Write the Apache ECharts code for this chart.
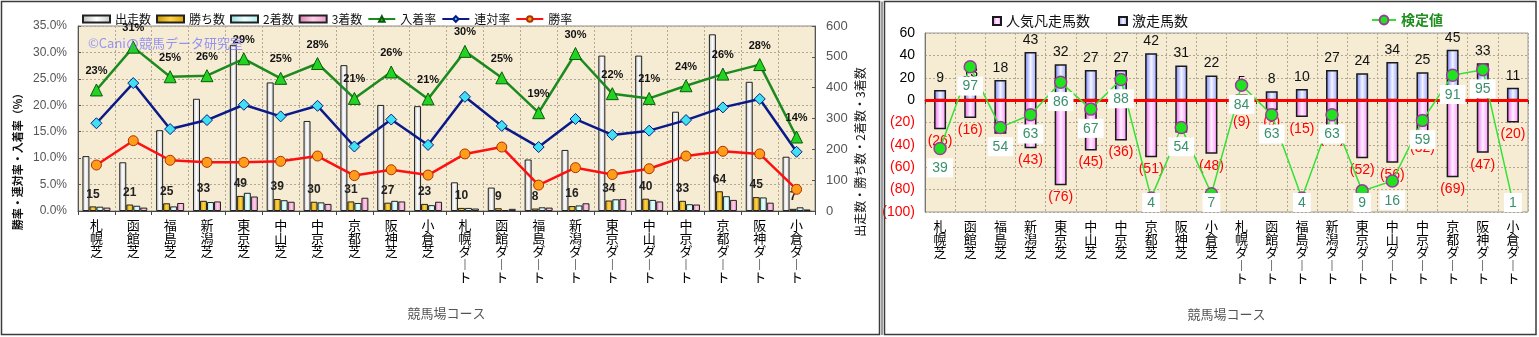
<!DOCTYPE html>
<html>
<head>
<meta charset="utf-8">
<script src="https://cdn.jsdelivr.net/npm/echarts@6/dist/echarts.min.js"></script>
<style>
  html, body { margin: 0; padding: 0; background: #ffffff; }
  #c { width: 1539px; height: 337px; }
</style>
</head>
<body>
<div id="c"></div>
<script>
// Racecourse / surface categories
const courses = ['札幌芝','函館芝','福島芝','新潟芝','東京芝','中山芝','中京芝','京都芝','阪神芝','小倉芝',
                 '札幌ダート','函館ダート','福島ダート','新潟ダート','東京ダート','中山ダート','中京ダート','京都ダート','阪神ダート','小倉ダート'];

// Counts per course (right axis of the left panel)
const starters = [178,158,262,364,539,417,292,473,344,340,93,76,167,198,504,504,322,573,419,176];
const wins     = [15,21,25,33,49,39,30,31,27,23,10,9,8,16,34,40,33,64,45,7];
const seconds  = [14,17,15,29,59,35,28,26,33,19,10,3,12,18,38,36,22,48,44,12];
const thirds   = [11,11,26,31,47,30,23,43,31,30,8,7,11,25,39,31,21,36,27,5];

// Rates in % (left axis of the left panel)
const placeRate    = [22.9,31.0,25.4,25.6,28.8,25.1,27.9,21.3,26.3,21.2,30.2,25.2,18.6,29.8,22.2,21.3,23.7,25.9,27.7,14.0];
const quinellaRate = [16.6,24.2,15.5,17.2,20.1,17.9,19.9,12.2,17.3,12.5,21.6,16.1,12.1,17.4,14.4,15.2,17.2,19.6,21.2,11.2];
const winRate      = [8.7,13.3,9.6,9.2,9.2,9.4,10.4,6.7,7.8,6.8,10.8,12.1,4.9,8.2,6.9,8.0,10.4,11.3,10.8,4.1];

// Right panel: beaten favourites (negative), longshot runs (positive), test statistic
const favLoss   = [-26,-16,-30,-43,-76,-45,-36,-51,-29,-48,-9,-9,-15,-24,-52,-56,-32,-69,-47,-20];
const longshots = [9,13,18,43,32,27,27,42,31,22,5,8,10,27,24,34,25,45,33,11];
const testValue = [39,97,54,63,86,67,88,4,54,7,84,63,4,63,9,16,59,91,95,1];

// Axis tick settings
const rateTicks  = { min: 0, max: 35, interval: 5 };
const countTicks = { min: 0, max: 600, interval: 100 };
const diffTicks  = { min: -100, max: 60, interval: 20 };
const testRange  = { min: -6, max: 121 };

const JP = '"Noto Sans CJK JP", "Noto Sans", sans-serif';
const NUM = '"Liberation Sans", Arial, sans-serif';
const PLOT_BG = '#f6ecd3';
const GRID_LINE = { show: true, lineStyle: { type: [2, 2], color: '#b3a892', width: 1 } };

// vertical stacked category text; long-vowel mark turned upright
const vertical = s => s.split('').map(c => (c === 'ー' ? '︱' : c)).join('\n');

const hGrad = stops => new echarts.graphic.LinearGradient(0, 0, 1, 0,
  stops.map((c, i) => ({ offset: i / (stops.length - 1), color: c })));

const barBorder = { borderColor: '#222', borderWidth: 1 };

const grid1 = { left: 78, top: 26, width: 737, height: 185 };
const grid2 = { left: 925, top: 33, width: 603, height: 179 };

const catAxis = (gridIndex) => ({
  type: 'category', gridIndex, data: courses,
  axisLine: { lineStyle: { color: '#444', width: 1 } },
  axisTick: { show: true, length: 4, lineStyle: { color: '#444' } },
  axisLabel: { interval: 0, formatter: vertical, fontFamily: JP, fontSize: 13, lineHeight: 12.8,
               color: '#000', margin: 8, verticalAlign: 'top' },
  splitLine: GRID_LINE,
  name: '競馬場コース', nameLocation: 'middle', nameGap: 96,
  nameTextStyle: { fontFamily: JP, fontSize: 13, color: '#555' }
});

const option = {
  animation: false,
  backgroundColor: '#ffffff',
  grid: [
    Object.assign({ show: true, backgroundColor: PLOT_BG, borderColor: '#8c8c8c', borderWidth: 1 }, grid1),
    Object.assign({ show: true, backgroundColor: PLOT_BG, borderColor: '#9a9a9a', borderWidth: 1 }, grid2)
  ],
  legend: [
    {
      left: 77, top: 8, itemWidth: 27, itemHeight: 7, itemGap: 5,
      textStyle: { fontFamily: JP, fontSize: 12, color: '#111' },
      data: [
        { name: '出走数', icon: 'rect' }, { name: '勝ち数', icon: 'rect' },
        { name: '2着数', icon: 'rect' }, { name: '3着数', icon: 'rect' },
        '入着率', '連対率', '勝率'
      ]
    },
    {
      left: 987, top: 9, itemWidth: 8, itemHeight: 8, itemGap: 28,
      textStyle: { fontFamily: JP, fontSize: 14, color: '#111' },
      data: [{ name: '人気凡走馬数', icon: 'rect' }, { name: '激走馬数', icon: 'rect' }]
    },
    {
      left: 1366, top: 8, itemWidth: 24, itemHeight: 11,
      textStyle: { fontFamily: JP, fontSize: 14, fontWeight: 'bold', color: '#1f8f1f' },
      data: ['検定値']
    }
  ],
  xAxis: [catAxis(0), catAxis(1)],
  yAxis: [
    Object.assign({
      type: 'value', gridIndex: 0, position: 'left',
      axisLine: { show: true, lineStyle: { color: '#555' } },
      axisTick: { show: true, inside: true, length: 3, lineStyle: { color: '#555' } },
      axisLabel: { formatter: v => v.toFixed(1) + '%', fontFamily: NUM, fontSize: 12, color: '#555', margin: 11 },
      splitLine: GRID_LINE
    }, rateTicks),
    Object.assign({
      type: 'value', gridIndex: 0, position: 'right',
      axisLine: { show: true, lineStyle: { color: '#555' } },
      axisTick: { show: true, inside: true, length: 3, lineStyle: { color: '#555' } },
      axisLabel: { fontFamily: NUM, fontSize: 13, color: '#555', margin: 11 },
      splitLine: { show: false }
    }, countTicks),
    Object.assign({
      type: 'value', gridIndex: 1, position: 'left',
      axisLine: { show: true, lineStyle: { color: '#777' } },
      axisTick: { show: false },
      axisLabel: {
        margin: 10,
        formatter: v => (v < 0 ? '{neg|(' + (-v) + ')}' : '{pos|' + v + '}'),
        rich: {
          neg: { color: '#ff0000', fontFamily: NUM, fontSize: 14 },
          pos: { color: '#000', fontFamily: NUM, fontSize: 14 }
        }
      },
      splitLine: GRID_LINE
    }, diffTicks),
    Object.assign({
      type: 'value', gridIndex: 1, position: 'right', show: false,
      splitLine: { show: false }
    }, testRange)
  ],
  series: [
    {
      name: '出走数', type: 'bar', xAxisIndex: 0, yAxisIndex: 1, data: starters,
      barWidth: 7, barGap: '0%',
      itemStyle: Object.assign({ color: hGrad(['#bdbdbd', '#ffffff', '#c8c8c8']) }, barBorder)
    },
    {
      name: '勝ち数', type: 'bar', xAxisIndex: 0, yAxisIndex: 1, data: wins,
      barWidth: 7, barGap: '0%',
      itemStyle: Object.assign({ color: hGrad(['#c99200', '#ffd447', '#d8a000']) }, barBorder),
      label: { show: true, position: 'top', distance: 6, fontFamily: NUM, fontSize: 12,
               fontWeight: 'bold', color: '#222' }
    },
    {
      name: '2着数', type: 'bar', xAxisIndex: 0, yAxisIndex: 1, data: seconds,
      barWidth: 7, barGap: '0%',
      itemStyle: Object.assign({ color: hGrad(['#90dede', '#ecffff', '#b0eeee']) }, barBorder)
    },
    {
      name: '3着数', type: 'bar', xAxisIndex: 0, yAxisIndex: 1, data: thirds,
      barWidth: 7, barGap: '0%',
      itemStyle: Object.assign({ color: hGrad(['#e07cb6', '#ffd0e8', '#ec96c8']) }, barBorder)
    },
    {
      name: '入着率', type: 'line', xAxisIndex: 0, yAxisIndex: 0, data: placeRate, z: 5,
      lineStyle: { color: '#1d8a1d', width: 2.5 },
      symbol: 'triangle', symbolSize: 12,
      itemStyle: { color: '#22d322', borderColor: '#0b5a0b', borderWidth: 1 },
      label: { show: true, position: 'top', distance: 7, formatter: p => Math.round(p.value) + '%',
               fontFamily: NUM, fontSize: 11, fontWeight: 'bold', color: '#111' }
    },
    {
      name: '連対率', type: 'line', xAxisIndex: 0, yAxisIndex: 0, data: quinellaRate, z: 5,
      lineStyle: { color: '#0a1a88', width: 2.5 },
      symbol: 'diamond', symbolSize: 11,
      itemStyle: { color: '#3fe0f0', borderColor: '#0a1a88', borderWidth: 1 }
    },
    {
      name: '勝率', type: 'line', xAxisIndex: 0, yAxisIndex: 0, data: winRate, z: 5,
      lineStyle: { color: '#ff1010', width: 2.5 },
      symbol: 'circle', symbolSize: 10,
      itemStyle: { color: '#ff9c1a', borderColor: '#b03000', borderWidth: 1 }
    },
    {
      name: '人気凡走馬数', type: 'bar', xAxisIndex: 1, yAxisIndex: 2, data: favLoss,
      barWidth: 12, barGap: '-100%',
      itemStyle: { color: hGrad(['#f060f0', '#fff0ff', '#ff8cff']), borderColor: '#1a1a1a', borderWidth: 1.5 },
      label: { show: true, position: 'bottom', distance: 5, formatter: p => '(' + Math.abs(p.value) + ')',
               fontFamily: NUM, fontSize: 14, color: '#ff0000' }
    },
    {
      name: '激走馬数', type: 'bar', xAxisIndex: 1, yAxisIndex: 2, data: longshots,
      barWidth: 12, barGap: '-100%',
      itemStyle: { color: hGrad(['#6e7cff', '#f4f5ff', '#949eff']), borderColor: '#1a1a1a', borderWidth: 1.5 },
      label: { show: true, position: 'top', distance: 5, fontFamily: NUM, fontSize: 14, color: '#111' },
      markLine: {
        silent: true, symbol: ['none', 'none'], label: { show: false },
        lineStyle: { color: '#ff0000', width: 3, type: 'solid' },
        emphasis: { disabled: true },
        data: [{ yAxis: 0 }]
      }
    },
    {
      name: '検定値', type: 'line', xAxisIndex: 1, yAxisIndex: 3, data: testValue, z: 6,
      lineStyle: { color: '#36e036', width: 1.5 },
      symbol: 'circle', symbolSize: 12,
      itemStyle: { color: '#1fe31f', borderColor: '#9b3a9b', borderWidth: 1.5 },
      label: { show: true, position: 'bottom', distance: 3, backgroundColor: '#ffffff',
               padding: [3, 5, 2, 5], fontFamily: NUM, fontSize: 14, color: '#3a8f6c' },
      // keep value boxes inside the plot area
      labelLayout: p => {
        const bottom = grid2.top + grid2.height;
        const over = p.labelRect.y + p.labelRect.height - bottom;
        return over > 0 ? { dy: -over } : {};
      }
    }
  ],
  graphic: [
    { type: 'rect', silent: true, z: 100, shape: { x: 1.5, y: 1.5, width: 878, height: 333 },
      style: { fill: 'none', stroke: '#3c3c3c', lineWidth: 1.5 } },
    { type: 'line', silent: true, z: 100, shape: { x1: 882, y1: 1.5, x2: 882, y2: 335 },
      style: { stroke: '#3c3c3c', lineWidth: 1 } },
    { type: 'rect', silent: true, z: 100, shape: { x: 884.5, y: 1.5, width: 651.5, height: 333 },
      style: { fill: 'none', stroke: '#3c3c3c', lineWidth: 1.5 } },
    { type: 'text', silent: true, z: 100, x: 88, y: 43,
      style: { text: '©Caniの競馬データ研究室', fill: 'rgba(125,125,250,0.8)',
               font: '13px "Noto Sans CJK JP"', verticalAlign: 'middle' } },
    { type: 'text', silent: true, z: 100, x: 18, y: 159, rotation: Math.PI / 2,
      style: { text: '勝率・連対率・入着率（%）', fill: '#111', align: 'center', verticalAlign: 'middle',
               font: 'bold 11px "Noto Sans CJK JP"' } },
    { type: 'text', silent: true, z: 100, x: 860, y: 152, rotation: Math.PI / 2,
      style: { text: '出走数・勝ち数・2着数・3着数', fill: '#111', align: 'center', verticalAlign: 'middle',
               font: '12px "Noto Sans CJK JP"' } }
  ]
};

const chart = echarts.init(document.getElementById('c'), null, { renderer: 'canvas' });
chart.setOption(option);
</script>
</body>
</html>
